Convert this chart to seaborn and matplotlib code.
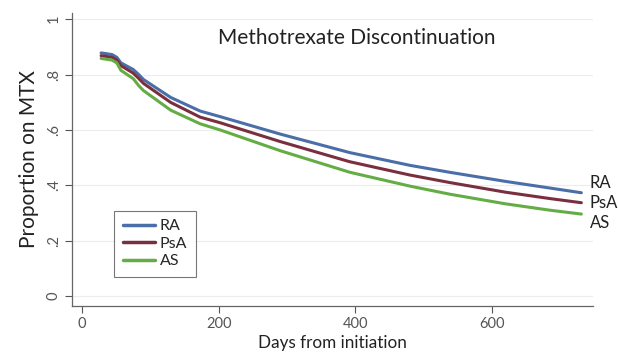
import matplotlib
matplotlib.use("Agg")
import matplotlib.pyplot as plt
import seaborn as sns
import pandas as pd

days = [28, 44, 51, 57, 75, 83, 90, 130, 173, 202, 290, 392, 480, 538, 620, 685, 731]
ra = [0.878, 0.872, 0.862, 0.842, 0.818, 0.800, 0.782, 0.717, 0.668, 0.648, 0.585, 0.518, 0.472, 0.447, 0.414, 0.390, 0.373]
psa = [0.868, 0.862, 0.852, 0.832, 0.805, 0.786, 0.768, 0.699, 0.646, 0.626, 0.558, 0.485, 0.437, 0.410, 0.375, 0.352, 0.337]
as_ = [0.858, 0.852, 0.842, 0.815, 0.785, 0.760, 0.742, 0.671, 0.622, 0.600, 0.525, 0.447, 0.397, 0.368, 0.333, 0.310, 0.296]
groups = ["RA", "PsA", "AS"]
colors = ["#4a6ea8", "#7a2f3f", "#64ad45"]
yticks = [0, 0.2, 0.4, 0.6, 0.8, 1.0]
ytick_labels = ["0", ".2", ".4", ".6", ".8", "1"]
xticks = [0, 200, 400, 600]

df = pd.DataFrame({
    "day": days * 3,
    "prop": ra + psa + as_,
    "group": [g for g in groups for _ in days],
})

sns.set_theme(style="white")
plt.rcParams["font.family"] = ["Lato", "DejaVu Sans"]

fig = plt.figure(figsize=(6.18, 3.53), dpi=100)
ax = fig.add_axes([0.1165, 0.1331, 0.843, 0.830])

for y in yticks:
    ax.axhline(y, color="#ececec", lw=0.8, zorder=0)

sns.lineplot(data=df, x="day", y="prop", hue="group", hue_order=groups,
             palette=colors, linewidth=2.2, ax=ax, legend=True)

ax.set_xlim(-14.6, 748)
ax.set_ylim(-0.036, 1.022)
ax.set_yticks(yticks)
ax.set_yticklabels(ytick_labels, rotation=90, va="center")
ax.set_xticks(xticks)
ax.tick_params(axis="both", which="both", direction="out", length=5, width=0.8,
               color="#555555", labelsize=10.5, labelcolor="#555555", pad=3,
               left=True, bottom=True)
for s in ["top", "right"]:
    ax.spines[s].set_visible(False)
for s in ["left", "bottom"]:
    ax.spines[s].set_color("#666666")
    ax.spines[s].set_linewidth(0.9)

ax.set_xlabel("Days from initiation", fontsize=12.3, color="#222222", labelpad=3)
ax.set_ylabel("Proportion on MTX", fontsize=15, color="#222222", labelpad=6)

ax.text(0.547, 0.915, "Methotrexate Discontinuation", transform=ax.transAxes,
        ha="center", va="center", fontsize=15, color="#222222")

label_y = [0.408, 0.336, 0.264]
for g, v in zip(groups, label_y):
    ax.text(743, v, g, fontsize=12, color="#222222", ha="left", va="center",
            clip_on=False)

leg = ax.legend(loc="lower left", bbox_to_anchor=(0.081, 0.099), frameon=True,
                fancybox=False, edgecolor="#555555", fontsize=11.5, title=None,
                handlelength=2.0, handletextpad=0.3, borderpad=0.55,
                labelspacing=0.2, borderaxespad=0)
leg.get_frame().set_linewidth(0.8)
for line in leg.get_lines():
    line.set_linewidth(2.5)

fig.savefig("out.png", dpi=100)
